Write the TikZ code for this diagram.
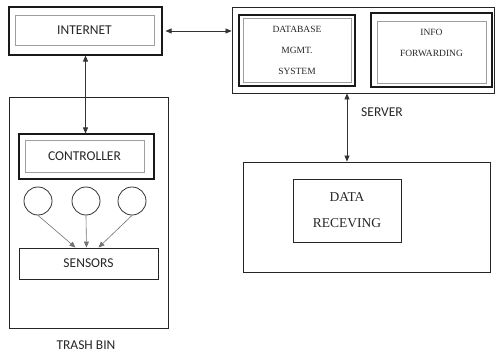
\documentclass[tikz,border=0pt]{standalone}
\usepackage{fontspec}
\setmainfont{Liberation Serif}
\setsansfont{Carlito}
\usepackage{tikz}
\usetikzlibrary{arrows.meta,positioning}

\begin{document}
\begin{tikzpicture}[
  x=1pt, y=-1pt,
  %% style definitions
  outbox/.style  = {draw=black!90, line width=1.1pt, inner sep=0pt},
  inbox/.style   = {draw=gray!75, line width=0.8pt, inner sep=0pt,
                    align=center, text=black!85},
  plainbox/.style= {draw=black!85, line width=0.9pt, inner sep=0pt,
                    align=center, text=black!85},
  sanslbl/.style = {font=\sffamily\fontsize{13.5}{16}\selectfont, text=black!85},
  serlbl/.style  = {font=\fontsize{9.5}{21}\selectfont, text=black!85, align=center},
  bigser/.style  = {font=\fontsize{13.5}{26}\selectfont, text=black!85, align=center},
  sens/.style    = {circle, draw=black!80, line width=0.8pt, minimum size=28pt, inner sep=0pt},
  dbl/.style     = {{Triangle[length=6pt,width=5pt]}-{Triangle[length=6pt,width=5pt]},
                    line width=0.7pt, black!80},
  arr/.style     = {-{Triangle[length=6pt,width=5pt]}, line width=0.6pt, gray!90!black},
]
\useasboundingbox (0,0) rectangle (496,353);

%% ── Internet ────────────────────────────────────────────────────────────────
\node[outbox, minimum width=153pt, minimum height=48pt] (inet) at (85.5,31) {};
\node[inbox, sanslbl, minimum width=139pt, minimum height=30pt] (inetin) at (84.5,30) {INTERNET};

%% ── Server ──────────────────────────────────────────────────────────────────
\node[plainbox, minimum width=262pt, minimum height=86pt] (server) at (363,50) {};
\node[outbox, minimum width=116pt, minimum height=71pt] (db) at (297,50.5) {};
\node[inbox, serlbl, minimum width=108pt, minimum height=64pt] (dbin) at (297,50)
  {DATABASE\\MGMT.\\SYSTEM};
\node[outbox, minimum width=121pt, minimum height=74pt] (info) at (431.5,50) {};
\node[inbox, minimum width=109pt, minimum height=62pt] (infoin) at (431.5,52) {};
\node[serlbl] (infotxt) at (431.5,42.5) {INFO\\FORWARDING};
\node[sanslbl] (srvlbl) at (382,112) {SERVER};

%% ── Data receiving ──────────────────────────────────────────────────────────
\node[plainbox, minimum width=247pt, minimum height=110pt] (data) at (366.5,217) {};
\node[plainbox, bigser, minimum width=108pt, minimum height=63pt] (datain) at (347,210.5)
  {DATA\\RECEVING};

%% ── Trash bin ───────────────────────────────────────────────────────────────
\node[plainbox, minimum width=159pt, minimum height=231pt] (bin) at (88.5,212.5) {};
\node[outbox, minimum width=135pt, minimum height=45pt] (ctrl) at (86.5,156.5) {};
\node[inbox, sanslbl, minimum width=119pt, minimum height=32pt] (ctrlin) at (84.5,156) {CONTROLLER};
\node[sens] (s1) at (38,201) {};
\node[sens] (s2) at (86,201) {};
\node[sens] (s3) at (132,201) {};
\node[plainbox, sanslbl, minimum width=139pt, minimum height=31pt] (sensors) at (88.5,263.5) {SENSORS};
\node[sanslbl, inner sep=1pt] (binlbl) at (86,345) {TRASH BIN};

%% ── Connectors ──────────────────────────────────────────────────────────────
\draw[dbl] ([xshift=3pt]inet.east) -- (inet.east -| server.west);
\draw[dbl] (inet.south) -- (inet.south |- ctrl.north);
\draw[dbl] (server.south -| datain.north) -- (data.north -| datain.north);
\draw[arr] (s1.south) -- ([xshift=-13pt]sensors.north);
\draw[arr] (s2.south) -- ([xshift=-2pt]sensors.north);
\draw[arr] (s3.south) -- ([xshift=10pt]sensors.north);

\end{tikzpicture}
\end{document}
